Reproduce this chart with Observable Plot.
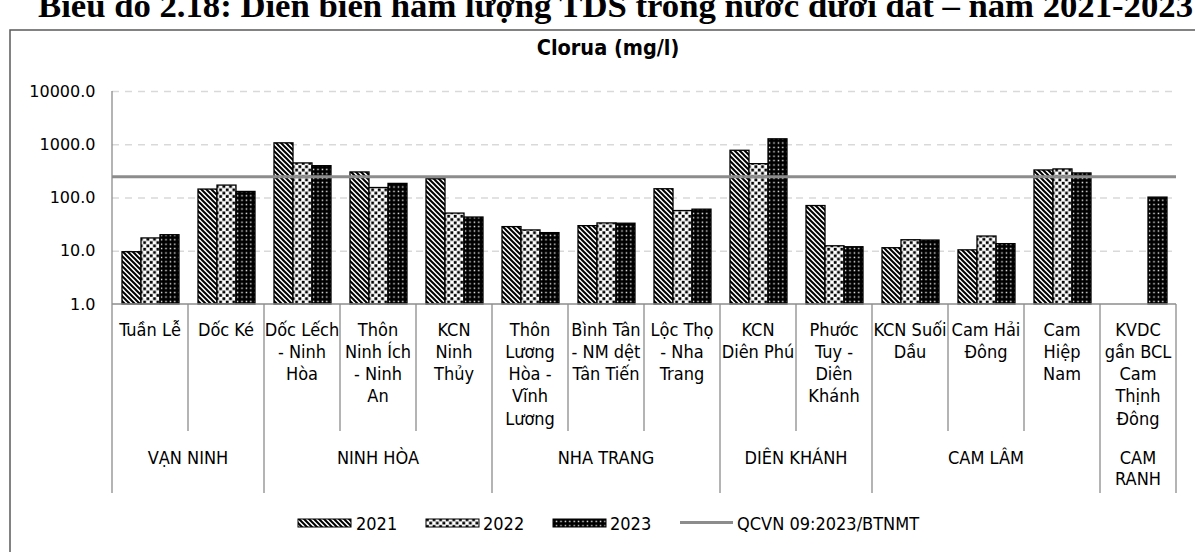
<!DOCTYPE html>
<html>
<head>
<meta charset="utf-8">
<script src="https://cdn.jsdelivr.net/npm/d3@7"></script>
<script src="https://cdn.jsdelivr.net/npm/@observablehq/plot@0.6"></script>
<style>
  body { margin: 0; background: #fff; }
  #wrap { position: relative; width: 1195px; height: 552px; overflow: hidden; background: #fff; }
  #wrap > svg { position: absolute; left: 0; top: 0; }
</style>
</head>
<body>
<div id="wrap"></div>
<script>
// ---------------- DATA ----------------
const chartTitle = "Biểu đồ 2.18: Diễn biến hàm lượng TDS trong nước dưới đất – năm 2021-2023";
const chartSubtitle = "Clorua (mg/l)";
const years = ["2021", "2022", "2023"];
const categories = [
  "Tuần Lễ", "Dốc Ké", "Dốc Lếch - Ninh Hòa", "Thôn Ninh Ích - Ninh An", "KCN Ninh Thủy",
  "Thôn Lương Hòa - Vĩnh Lương", "Bình Tân - NM dệt Tân Tiến", "Lộc Thọ - Nha Trang",
  "KCN Diên Phú", "Phước Tuy - Diên Khánh", "KCN Suối Dầu", "Cam Hải Đông", "Cam Hiệp Nam",
  "KVDC gần BCL Cam Thịnh Đông"
];
const categoryLabelLines = [
  ["Tuần Lễ"], ["Dốc Ké"], ["Dốc Lếch", "- Ninh", "Hòa"], ["Thôn", "Ninh Ích", "- Ninh", "An"],
  ["KCN", "Ninh", "Thủy"], ["Thôn", "Lương", "Hòa -", "Vĩnh", "Lương"], ["Bình Tân", "- NM dệt", "Tân Tiến"],
  ["Lộc Thọ", "- Nha", "Trang"], ["KCN", "Diên Phú"], ["Phước", "Tuy -", "Diên", "Khánh"],
  ["KCN Suối", "Dầu"], ["Cam Hải", "Đông"], ["Cam", "Hiệp", "Nam"], ["KVDC", "gần BCL", "Cam", "Thịnh", "Đông"]
];
const districtLabelLines = [["VẠN NINH"], ["NINH HÒA"], ["NHA TRANG"], ["DIÊN KHÁNH"], ["CAM LÂM"], ["CAM", "RANH"]];
const districtSizes = [2, 3, 3, 2, 3, 1];
const values2021 = [9.6, 144, 1063, 302, 225, 28.4, 29.6, 146, 771, 70.6, 11.4, 10.4, 329, null];
const values2022 = [17.4, 171, 446, 154, 51, 24.6, 33.3, 56.9, 432, 12.4, 16.1, 18.9, 344, null];
const values2023 = [20.0, 130, 396, 184, 43, 21.9, 32.9, 60.4, 1265, 11.9, 15.9, 13.6, 289, 101.7];
const thresholdValue = 250;
const thresholdLabel = "QCVN 09:2023/BTNMT";
const yTickValues = [1, 10, 100, 1000, 10000];

// ---------------- BUILD ----------------
const seriesByYear = {"2021": values2021, "2022": values2022, "2023": values2023};
const rows = [];
categories.forEach((c, i) => {
  years.forEach(yr => {
    const v = seriesByYear[yr][i];
    if (v != null) rows.push({category: c, year: yr, value: v});
  });
});

const FONT = '"DejaVu Sans Condensed", "DejaVu Sans", sans-serif';

const plot = Plot.plot({
  width: 1195,
  height: 552,
  marginTop: 91,
  marginBottom: 248,
  marginLeft: 111,
  marginRight: 18,
  style: {background: "#fff", color: "#000", overflow: "visible"},
  fx: {domain: categories, padding: 0, axis: null},
  x: {domain: years, paddingInner: 0, paddingOuter: 0.45, axis: null},
  y: {type: "log", domain: [1, 10000], axis: null},
  marks: [
    Plot.gridY(yTickValues.slice(1), {stroke: "#d9d9d9", strokeOpacity: 1, strokeWidth: 1.6, strokeDasharray: "7,6"}),
    ...years.map(yr => Plot.barY(rows.filter(d => d.year === yr), {
      fx: "category", x: "year", y1: 1, y2: "value",
      fill: `url(#pat${yr})`, stroke: "#000", strokeWidth: 1.3
    })),
    Plot.ruleY([thresholdValue], {stroke: "#8c8c8c", strokeWidth: 3}),
    Plot.axisY(yTickValues, {
      label: null, tickSize: 0, tickPadding: 17, tickFormat: d3.format(".1f"),
      fontSize: 16, fontFamily: '"DejaVu Sans", sans-serif', fill: "#000"
    })
  ]
});

document.getElementById("wrap").appendChild(plot);

const svg = d3.select(plot);
const defs = svg.insert("defs", ":first-child");

// pattern 2021: diagonal stripes "\"
const p1 = defs.append("pattern").attr("id", "pat2021").attr("patternUnits", "userSpaceOnUse")
  .attr("width", 5).attr("height", 5);
p1.append("rect").attr("width", 5).attr("height", 5).attr("fill", "#fff");
p1.append("path").attr("d", "M0,0L5,5M-1,4L1,6M4,-1L6,1").attr("stroke", "#000").attr("stroke-width", 2);

// pattern 2022: white with black squares
const p2 = defs.append("pattern").attr("id", "pat2022").attr("patternUnits", "userSpaceOnUse")
  .attr("width", 6.6).attr("height", 6.6);
p2.append("rect").attr("width", 6.6).attr("height", 6.6).attr("fill", "#fff");
p2.append("rect").attr("x", 0.3).attr("y", 0.3).attr("width", 2.8).attr("height", 2.8).attr("fill", "#000");
p2.append("rect").attr("x", 3.6).attr("y", 3.6).attr("width", 2.8).attr("height", 2.8).attr("fill", "#000");

// pattern 2023: black with white dots
const p3 = defs.append("pattern").attr("id", "pat2023").attr("patternUnits", "userSpaceOnUse")
  .attr("width", 4.4).attr("height", 4.4);
p3.append("rect").attr("width", 4.4).attr("height", 4.4).attr("fill", "#000");
p3.append("rect").attr("x", 1.5).attr("y", 1.5).attr("width", 1.4).attr("height", 1.4).attr("fill", "#fff");

// ---------- category table under the axis (uses Plot's scales) ----------
const fx = plot.scale("fx");
const ys = plot.scale("y");
const bw = fx.bandwidth;
const yBase = ys.apply(1);
const yTop = ys.apply(10000);
const edge = k => k < categories.length ? fx.apply(categories[k]) : fx.apply(categories[categories.length - 1]) + bw;

const groupBounds = [0];
districtSizes.reduce((acc, n) => { groupBounds.push(acc + n); return acc + n; }, 0);

const AXIS = "#8c8c8c";
const tg = svg.append("g").attr("font-family", FONT).attr("font-size", 18).attr("fill", "#000");

// y axis line
tg.append("line").attr("x1", edge(0)).attr("x2", edge(0)).attr("y1", yTop).attr("y2", yBase)
  .attr("stroke", AXIS).attr("stroke-width", 1.3);
// baseline
tg.append("line").attr("x1", edge(0)).attr("x2", edge(categories.length)).attr("y1", yBase).attr("y2", yBase)
  .attr("stroke", AXIS).attr("stroke-width", 1.3);

for (let k = 0; k <= categories.length; k++) {
  const isGroup = groupBounds.includes(k);
  tg.append("line").attr("x1", edge(k)).attr("x2", edge(k))
    .attr("y1", yBase).attr("y2", isGroup ? yBase + 189 : yBase + 127)
    .attr("stroke", AXIS).attr("stroke-width", 1.3);
}

categories.forEach((c, i) => {
  const cx = fx.apply(c) + bw / 2;
  categoryLabelLines[i].forEach((line, j) => {
    tg.append("text").attr("x", cx).attr("y", yBase + 25 + j * 22.3)
      .attr("text-anchor", "middle").attr("dominant-baseline", "central").text(line);
  });
});

districtLabelLines.forEach((lines, g) => {
  const cx = (edge(groupBounds[g]) + edge(groupBounds[g + 1])) / 2;
  lines.forEach((line, j) => {
    tg.append("text").attr("x", cx).attr("y", yBase + 153 + j * 21.5)
      .attr("text-anchor", "middle").attr("dominant-baseline", "central").text(line);
  });
});

// ---------- frame, title, subtitle ----------
svg.append("rect").attr("x", 10).attr("y", 30).attr("width", 1200).attr("height", 600)
  .attr("fill", "none").attr("stroke", "#5a5a5a").attr("stroke-width", 1.5);

svg.append("text").attr("x", 38).attr("y", 17).attr("text-anchor", "start")
  .attr("font-family", '"Liberation Serif", "Times New Roman", serif').attr("font-weight", "bold")
  .attr("font-size", 34).attr("textLength", 1155).attr("lengthAdjust", "spacingAndGlyphs")
  .attr("fill", "#000").text(chartTitle);

svg.append("text").attr("x", 608).attr("y", 47)
  .attr("font-family", FONT).attr("font-weight", "bold").attr("font-size", 21.5)
  .attr("text-anchor", "middle").attr("dominant-baseline", "central").attr("fill", "#000")
  .text(chartSubtitle);

// ---------- legend ----------
const lg = svg.append("g").attr("font-family", FONT).attr("font-size", 18).attr("fill", "#000")
  .attr("text-anchor", "start");
const legendItems = [
  {key: "2021", sx: 298, tx: 356},
  {key: "2022", sx: 426, tx: 483},
  {key: "2023", sx: 553, tx: 610}
];
legendItems.forEach(it => {
  lg.append("rect").attr("x", it.sx).attr("y", 519).attr("width", 53).attr("height", 8)
    .attr("fill", `url(#pat${it.key})`).attr("stroke", "#000").attr("stroke-width", 1);
  lg.append("text").attr("x", it.tx).attr("y", 523).attr("text-anchor", "start")
    .attr("dominant-baseline", "central").text(it.key);
});
lg.append("line").attr("x1", 680).attr("x2", 733).attr("y1", 522.5).attr("y2", 522.5)
  .attr("stroke", "#8c8c8c").attr("stroke-width", 3);
lg.append("text").attr("x", 737).attr("y", 523).attr("text-anchor", "start")
  .attr("dominant-baseline", "central").text(thresholdLabel);
</script>
</body>
</html>
